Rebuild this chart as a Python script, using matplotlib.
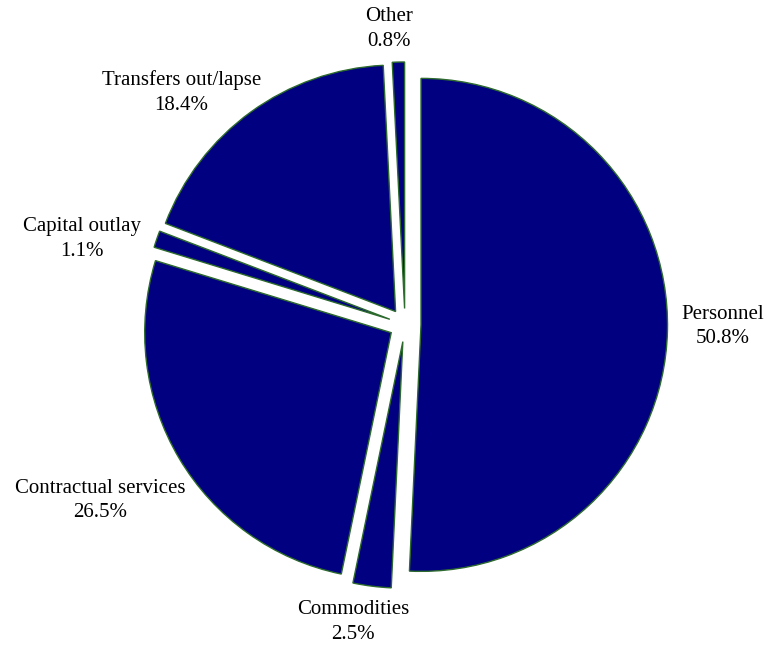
import numpy as np
import matplotlib.pyplot as plt

# Budget shares, clockwise from 12 o'clock
categories = ['Personnel', 'Commodities', 'Contractual services',
              'Capital outlay', 'Transfers out/lapse', 'Other']
shares = [50.8, 2.5, 26.5, 1.1, 18.4, 0.8]

# label placement (layout only): radius and angle nudge off the wedge middle
label_r = [1.290, 1.226, 1.429, 1.354, 1.307, 1.200]
label_nudge = [1.0, -2.7, -0.7, 4.1, 8.0, 1.7]
explode = [0.065, 0.07, 0.065, 0.065, 0.065, 0.065]

plt.rcParams['font.family'] = ['Liberation Serif', 'DejaVu Serif']

fig = plt.figure(figsize=(7.69, 6.46), dpi=100)
ax = fig.add_axes([0, 0, 1, 1])

wedges, _ = ax.pie(shares, startangle=90, counterclock=False, explode=explode,
                   colors=['#000080'] * len(shares),
                   wedgeprops=dict(edgecolor='#2d6a2d', linewidth=1.0))

for w, name, v, r, dn in zip(wedges, categories, shares, label_r, label_nudge):
    mid = np.deg2rad((w.theta1 + w.theta2) / 2 + dn)
    ax.text(r * np.cos(mid), r * np.sin(mid), f'{name}\n{v:.1f}%',
            ha='center', va='center', fontsize=15, linespacing=1.4,
            color='black')

# pie centre at (405, 324.5) px, radius 246.5 px
scale = 246.5
ax.set_xlim(-405 / scale, (769 - 405) / scale)
ax.set_ylim(-(646 - 324.5) / scale, 324.5 / scale)
ax.set_aspect('auto')
ax.axis('off')

plt.savefig('out.png', dpi=100)
